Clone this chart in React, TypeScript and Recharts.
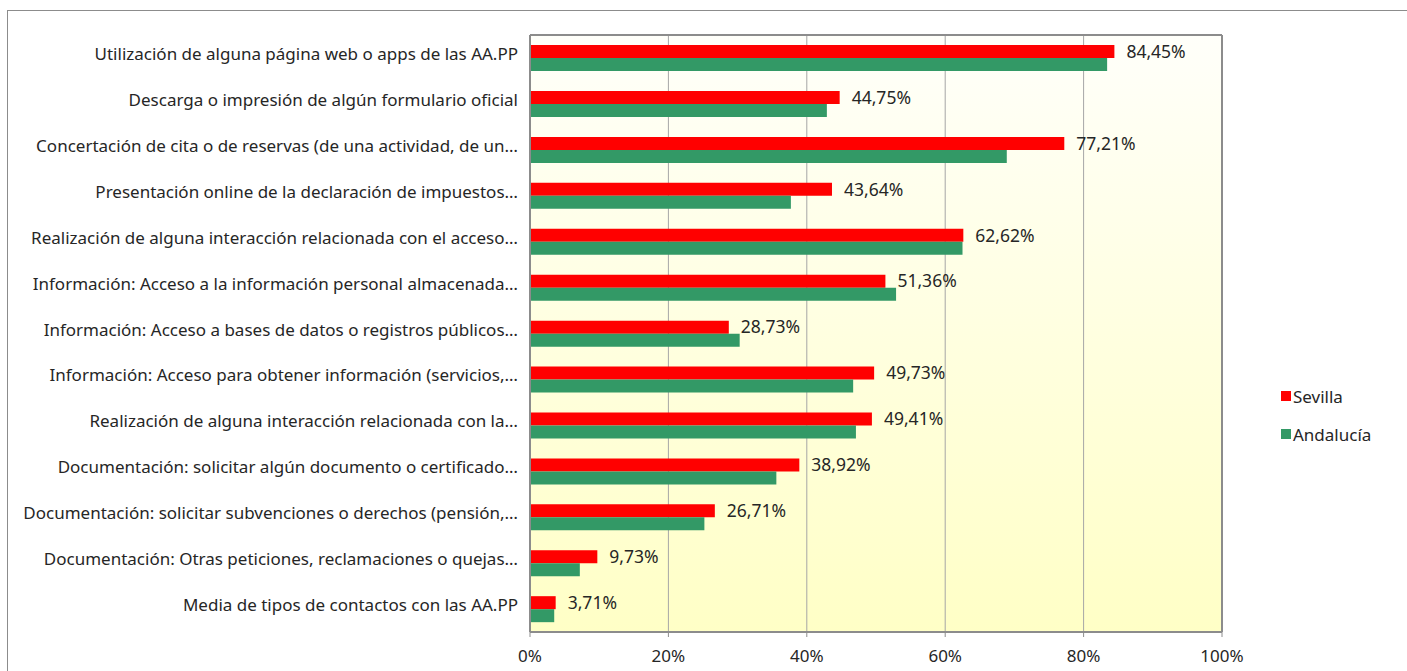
import React from "react";
import {
  BarChart,
  Bar,
  XAxis,
  YAxis,
  CartesianGrid,
  ReferenceLine,
  LabelList,
  Text,
} from "recharts";

const categories = [
  "Utilización de alguna página web o apps de las AA.PP",
  "Descarga o impresión de algún formulario oficial",
  "Concertación de cita o de reservas (de una actividad, de un…",
  "Presentación online de la declaración de impuestos…",
  "Realización de alguna interacción relacionada con el acceso…",
  "Información: Acceso a la información personal almacenada…",
  "Información: Acceso a bases de datos o registros públicos…",
  "Información: Acceso para obtener información (servicios,…",
  "Realización de alguna interacción relacionada con la…",
  "Documentación: solicitar algún documento o certificado…",
  "Documentación: solicitar subvenciones o derechos (pensión,…",
  "Documentación: Otras peticiones, reclamaciones o quejas…",
  "Media de tipos de contactos con las AA.PP",
];

const sevilla = [84.45, 44.75, 77.21, 43.64, 62.62, 51.36, 28.73, 49.73, 49.41, 38.92, 26.71, 9.73, 3.71];
const andalucia = [83.4, 42.9, 68.9, 37.7, 62.5, 52.9, 30.3, 46.7, 47.1, 35.6, 25.2, 7.2, 3.5];

const xTicks = [0, 20, 40, 60, 80, 100];

const FONT = "'Noto Sans', sans-serif";
const TEXT = "#262626";

const data = categories.map((name, i) => ({
  name,
  sevilla: sevilla[i],
  andalucia: andalucia[i],
}));

const fmtPct = (v: number) => v.toFixed(2).replace(".", ",") + "%";

function CategoryTick(props: any) {
  const { x, y, payload } = props;
  return (
    <Text
      x={x}
      y={y - 4}
      textAnchor="end"
      verticalAnchor="middle"
      fontSize={17}
      fontFamily={FONT}
      fill={TEXT}
    >
      {payload.value}
    </Text>
  );
}

function LegendBox() {
  const items = [
    { label: "Sevilla", color: "#ff0000" },
    { label: "Andalucía", color: "#339966" },
  ];
  return (
    <div style={{ position: "absolute", left: 1281, top: 384 }}>
      {items.map((it) => (
        <div
          key={it.label}
          style={{ display: "flex", alignItems: "center", height: 24, marginBottom: 14 }}
        >
          <span
            style={{ width: 10, height: 10, background: it.color, marginRight: 2, display: "inline-block" }}
          />
          <span style={{ fontFamily: FONT, fontSize: 17, color: TEXT }}>{it.label}</span>
        </div>
      ))}
    </div>
  );
}

export default function App() {
  return (
    <div
      style={{
        position: "absolute",
        left: 0,
        top: 0,
        width: 1407,
        height: 671,
        overflow: "hidden",
        background: "#fff",
      }}
    >
      <div
        style={{
          position: "absolute",
          left: 7,
          top: 10,
          width: 1500,
          height: 800,
          border: "1px solid #8c8c8c",
        }}
      />
      <div style={{ position: "absolute", left: 0, top: 0 }}>
        <BarChart
          width={1407}
          height={671}
          layout="vertical"
          data={data}
          margin={{ top: 0, right: 185, left: 0, bottom: 0 }}
          barCategoryGap="22%"
          barGap={0}
        >
          <defs>
            <linearGradient id="plotBg" x1="0" y1="0" x2="0" y2="1">
              <stop offset="0%" stopColor="#fffffa" />
              <stop offset="100%" stopColor="#ffffc6" />
            </linearGradient>
          </defs>
          <CartesianGrid
            horizontal={false}
            stroke="#a6a6a6"
            fill="url(#plotBg)"
            verticalValues={xTicks}
          />
          <XAxis
            xAxisId="top"
            orientation="top"
            type="number"
            domain={[0, 100]}
            height={35}
            tick={false}
            tickLine={false}
            axisLine={{ stroke: "#8c8c8c", strokeWidth: 2 }}
          />
          <XAxis
            type="number"
            domain={[0, 100]}
            ticks={xTicks}
            tickFormatter={(v: number) => `${v}%`}
            height={39}
            tickSize={5}
            tickMargin={13}
            tickLine={{ stroke: "#8c8c8c" }}
            axisLine={{ stroke: "#8c8c8c", strokeWidth: 2 }}
            tick={{ fontSize: 17, fontFamily: FONT, fill: TEXT }}
          />
          <YAxis
            type="category"
            dataKey="name"
            width={530}
            tickLine={false}
            tickSize={6}
            tickMargin={6}
            axisLine={{ stroke: "#8c8c8c", strokeWidth: 2 }}
            tick={<CategoryTick />}
            interval={0}
          />
          <ReferenceLine x={100} stroke="#8c8c8c" strokeWidth={2} />
          <Bar dataKey="sevilla" fill="#ff0000" isAnimationActive={false}>
            <LabelList
              dataKey="sevilla"
              position="right"
              offset={12}
              formatter={(v: any) => fmtPct(Number(v))}
              style={{ fontSize: 17.5, fontFamily: FONT, fill: TEXT }}
            />
          </Bar>
          <Bar dataKey="andalucia" fill="#339966" isAnimationActive={false} />
        </BarChart>
      </div>
      <LegendBox />
    </div>
  );
}
